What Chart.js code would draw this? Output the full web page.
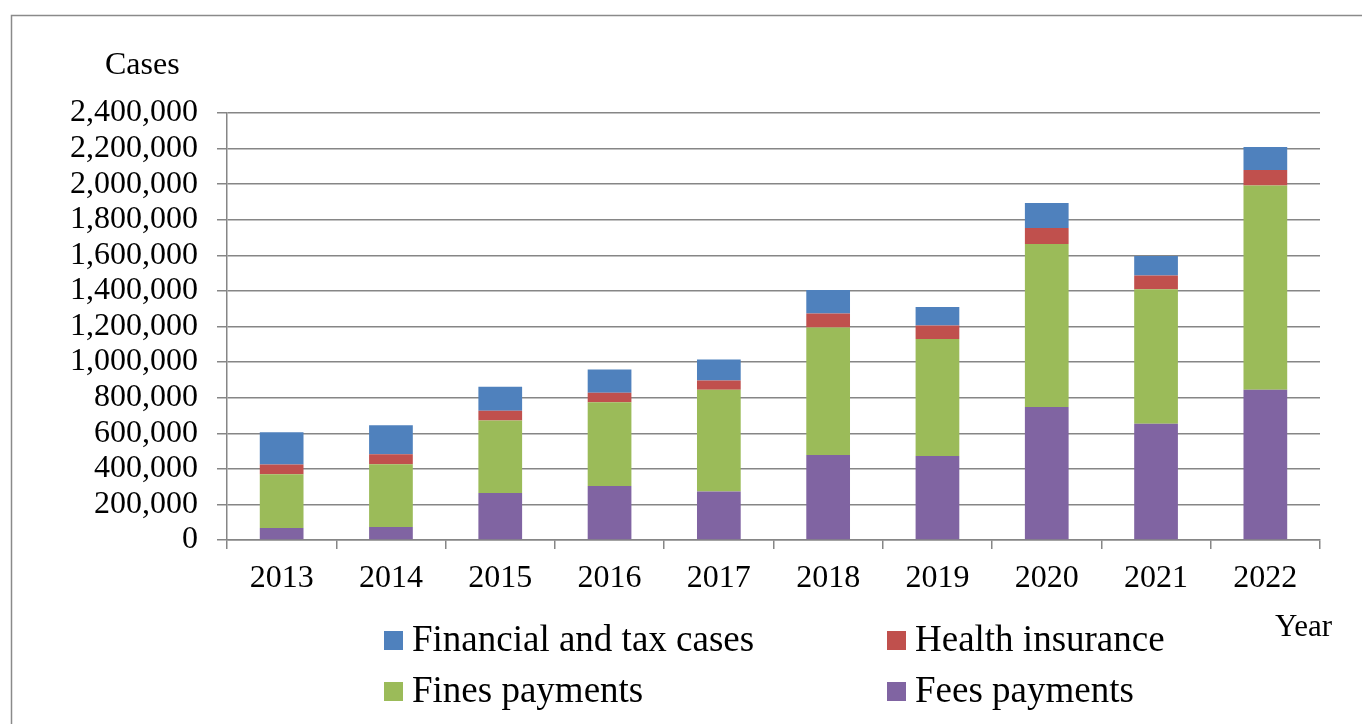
<!DOCTYPE html>
<html>
<head>
<meta charset="utf-8">
<script src="https://cdn.jsdelivr.net/npm/chart.js@4/dist/chart.umd.min.js"></script>
<style>
  html, body { margin: 0; padding: 0; background: #fff; }
  #wrap { width: 1362px; height: 724px; position: relative; }
</style>
</head>
<body>
<div id="wrap"><canvas id="c" width="1362" height="724"></canvas></div>
<script>
const years = ['2013','2014','2015','2016','2017','2018','2019','2020','2021','2022'];
const feesPayments = [67000, 73000, 264000, 304000, 272000, 478000, 472000, 747000, 654000, 844000];
const finesPayments = [302000, 353000, 407000, 470000, 572000, 716000, 658000, 917000, 756000, 1149000];
const healthInsurance = [55000, 56000, 56000, 53000, 52000, 79000, 75000, 90000, 77000, 87000];
const financialTax = [182000, 163000, 135000, 131000, 118000, 132000, 104000, 140000, 109000, 129000];
const yTickMax = 2400000;
const yTickStep = 200000;
const yTitle = 'Cases';
const xTitle = 'Year';

const FONT = "'Liberation Serif', 'Times New Roman', serif";
const GRID = '#868686';

const frameAndTitles = {
  id: 'frameAndTitles',
  afterDraw(chart) {
    const ctx = chart.ctx;
    ctx.save();
    ctx.strokeStyle = '#8a8a8a';
    ctx.lineWidth = 1.5;
    ctx.strokeRect(11.5, 15.5, 1400, 800);
    ctx.fillStyle = '#000';
    ctx.font = '32px ' + FONT;
    ctx.textBaseline = 'alphabetic';
    ctx.textAlign = 'left';
    ctx.fillText(yTitle, 105, 74);
    ctx.font = '31px ' + FONT;
    ctx.fillText(xTitle, 1275, 636);

    // legend in two aligned columns
    const order = [3, 2, 1, 0];
    const cols = [384, 887];
    const rows = [650, 701];
    ctx.font = '37px ' + FONT;
    order.forEach((di, i) => {
      const ds = chart.data.datasets[di];
      const x = cols[i % 2];
      const y = rows[Math.floor(i / 2)];
      ctx.fillStyle = ds.backgroundColor;
      ctx.fillRect(x, y - 19, 19, 19);
      ctx.fillStyle = '#000';
      ctx.fillText(ds.label, x + 28, y + 1);
    });
    ctx.restore();
  }
};

new Chart(document.getElementById('c'), {
  type: 'bar',
  data: {
    labels: years,
    datasets: [
      { label: 'Fees payments', data: feesPayments, backgroundColor: '#8064A2' },
      { label: 'Fines payments', data: finesPayments, backgroundColor: '#9BBB59' },
      { label: 'Health insurance', data: healthInsurance, backgroundColor: '#C0504D' },
      { label: 'Financial and tax cases', data: financialTax, backgroundColor: '#4F81BD' }
    ]
  },
  options: {
    responsive: false,
    animation: false,
    devicePixelRatio: 1,
    layout: { padding: { left: 0, right: 42, top: 113, bottom: 0 } },
    plugins: { legend: { display: false }, tooltip: { enabled: false } },
    datasets: { bar: { barPercentage: 0.4, categoryPercentage: 1, borderWidth: 0 } },
    scales: {
      x: {
        stacked: true,
        offset: true,
        afterFit(scale) { scale.height = 184; },
        grid: { offset: true, drawOnChartArea: false, drawTicks: true, tickLength: 9, color: GRID, lineWidth: 1.5 },
        border: { display: true, color: GRID, width: 1.5 },
        ticks: { color: '#000', font: { family: FONT, size: 32 }, padding: 10, maxRotation: 0, autoSkip: false }
      },
      y: {
        stacked: true,
        min: 0,
        max: yTickMax,
        afterFit(scale) { scale.width = 227; },
        grid: { drawOnChartArea: true, drawTicks: true, tickLength: 10, color: GRID, lineWidth: 1.5 },
        border: { display: true, color: GRID, width: 1.5 },
        ticks: {
          stepSize: yTickStep,
          autoSkip: false,
          color: '#000',
          padding: 19,
          font: { family: FONT, size: 32, lineHeight: 1 },
          callback: v => Number(v).toLocaleString('en-US')
        }
      }
    }
  },
  plugins: [frameAndTitles]
});
</script>
</body>
</html>
